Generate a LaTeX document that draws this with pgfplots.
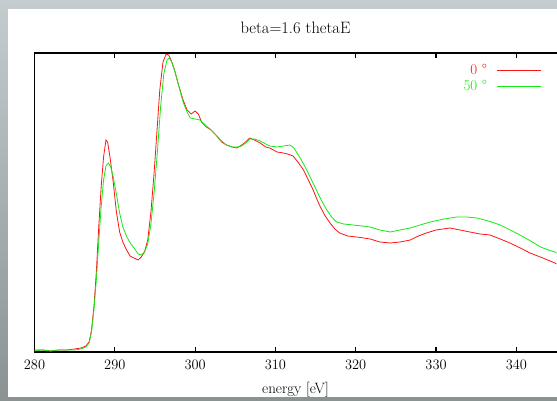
\documentclass[border=0pt]{standalone}
\usepackage{pgfplots}
\pgfplotsset{compat=1.18}
\definecolor{zeroc}{RGB}{255,20,20}
\definecolor{fiftyc}{RGB}{20,235,20}
\definecolor{frametop}{RGB}{196,204,208}
\definecolor{framebot}{RGB}{138,146,146}

\begin{document}
\begin{tikzpicture}
  % page frame (1pt = 1px of the reference)
  \useasboundingbox (-34.5pt,-49pt) rectangle (522.5pt,352pt);
  \fill[top color=frametop, bottom color=framebot] (-34.5pt,-49pt) rectangle (522.5pt,352pt);
  \fill[white] (-26.5pt,-45pt) rectangle (522.5pt,343pt);

  \begin{axis}[
      at={(0pt,0pt)}, anchor=south west,
      scale only axis, width=522pt, height=299pt,
      xmin=280, xmax=345, ymin=0, ymax=299,
      axis x line*=box, axis y line*=left,
      axis line style={black, line width=1.1pt},
      xtick={280,290,...,340}, ytick=\empty,
      tick align=inside, major tick length=5pt,
      tick style={black, line width=1.1pt},
      every tick label/.append style={font=\fontsize{15}{17}\selectfont},
      xticklabel style={yshift=-5pt},
      xlabel={energy [eV]},
      xlabel style={font=\fontsize{15}{17}\selectfont, at={(axis description cs:0.5,0)}, anchor=center, yshift=-38pt},
      title={beta=1.6 thetaE},
      title style={font=\fontsize{16.5}{18}\selectfont, at={(axis description cs:0.5,1)}, anchor=center, yshift=19pt},
      legend plot pos=right, legend cell align=right,
      legend image code/.code={\path (0pt,0pt); \draw[#1] (8pt,0pt) -- (52pt,0pt);},
      legend style={draw=none, fill=none, at={(rel axis cs:0.978,0.975)}, anchor=north east,
                    font=\fontsize{15}{17}\selectfont, row sep=0pt},
    ]
    \addplot[color=zeroc, line width=0.8pt] coordinates {
      (280.0,2) (281.0,2) (282.0,1) (283.0,2) (284.0,2) (285.0,3) (285.8,4) (286.4,6)
      (286.8,10) (287.1,22) (287.4,45) (287.7,80) (288.0,125) (288.3,165) (288.6,195)
      (288.9,212) (289.1,210) (289.4,195) (289.8,170) (290.2,140) (290.6,120) (291.0,110)
      (291.4,103) (291.9,96) (292.4,94) (292.9,92) (293.3,95) (293.7,100) (294.1,112)
      (294.5,140) (294.9,180) (295.2,215) (295.6,262) (296.0,290) (296.4,298) (296.7,297)
      (297.0,292) (297.4,283) (297.9,268) (298.5,252) (299.0,242) (299.5,238) (300.0,241)
      (300.4,238) (300.8,230) (301.4,225) (302.0,222) (302.7,216) (303.3,210) (303.9,207)
      (304.6,205) (305.2,204) (305.8,207) (306.3,210) (306.8,214) (307.4,212) (308.1,209)
      (308.8,205) (309.3,204) (310.2,200) (311.0,199) (311.5,198) (312.2,196) (312.8,190)
      (313.5,182) (314.1,172) (314.7,162) (315.2,152) (315.6,145) (316.2,136) (316.8,129)
      (317.4,123) (318.0,119) (319.0,116) (320.1,115) (321.0,114) (321.8,113) (323.0,110)
      (324.3,109) (325.5,110) (326.8,112) (327.8,116) (328.8,119) (330.0,122) (331.7,124)
      (333.0,122) (334.2,120) (335.5,118) (336.7,117) (338.0,113) (339.2,109) (340.5,104)
      (341.7,99) (343.3,94) (344.8,89) (345.0,88)
    };
    \addlegendentry{\textcolor{zeroc}{0 \textdegree}}
    \addplot[color=fiftyc, line width=0.8pt] coordinates {
      (280.0,1) (281.0,2) (282.0,1) (283.0,2) (284.0,2) (285.0,2) (285.8,3) (286.4,5)
      (286.8,9) (287.1,20) (287.4,42) (287.7,72) (288.0,110) (288.3,145) (288.6,172)
      (288.9,186) (289.2,189) (289.5,185) (289.8,175) (290.2,158) (290.6,139) (291.0,125)
      (291.5,115) (292.0,108) (292.4,104) (292.9,98) (293.3,97) (293.7,100) (294.1,108)
      (294.5,128) (294.9,160) (295.3,200) (295.7,245) (296.1,278) (296.5,292) (296.8,294)
      (297.1,290) (297.5,280) (297.9,268) (298.5,250) (299.0,240) (299.4,234) (300.0,233)
      (300.6,232) (301.4,226) (302.0,222) (302.7,216) (303.3,211) (303.9,207) (304.6,205)
      (305.2,205) (305.8,206) (306.3,209) (306.8,213) (307.4,213) (308.1,211) (308.8,208)
      (309.3,206) (310.2,205) (311.0,206) (311.8,207) (312.3,204) (312.7,199) (313.3,191)
      (313.9,182) (314.5,172) (315.1,162) (315.7,152) (316.4,142) (317.0,135) (317.6,130)
      (318.5,128) (319.7,127) (320.8,126) (321.8,125) (323.0,122) (324.3,120) (325.5,122)
      (326.8,124) (328.0,127) (329.3,130) (331.0,133) (332.6,135) (333.8,135) (335.1,134)
      (336.5,131) (338.0,127) (339.5,121) (340.9,115) (342.0,110) (343.0,105) (344.0,102)
      (344.8,100) (345.0,99)
    };
    \addlegendentry{\textcolor{fiftyc}{50 \textdegree}}
  \end{axis}
\end{tikzpicture}
\end{document}
